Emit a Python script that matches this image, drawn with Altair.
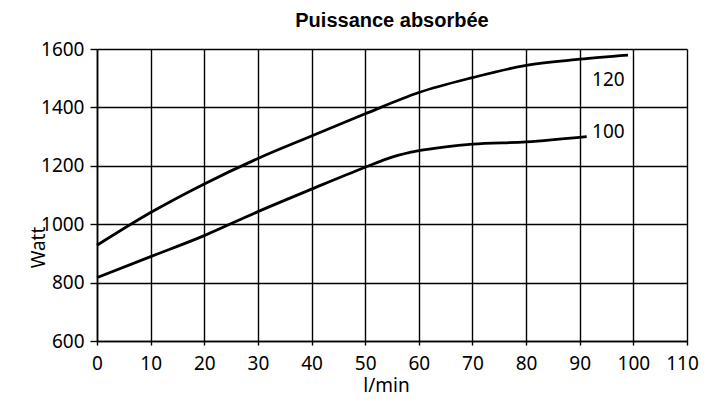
import altair as alt
import pandas as pd

# Curve "120"
x120 = [0, 10, 20, 30, 40, 50, 60, 70, 80, 90, 99]
w120 = [928, 1040, 1138, 1225, 1302, 1378, 1451, 1502, 1544, 1565, 1579]
# Curve "100"
x100 = [0, 10, 20, 30, 40, 50, 55, 60, 65, 70, 80, 91.3]
w100 = [817, 889, 961, 1043, 1120, 1195, 1230, 1252, 1265, 1274, 1282, 1300]

label_text = ["120", "100"]
label_x = [92.3, 92.3]
label_w = [1494, 1316]

x_ticks = list(range(0, 111, 10))
y_ticks = list(range(600, 1601, 200))

rows = [{"x": a, "w": b, "serie": "120"} for a, b in zip(x120, w120)]
rows += [{"x": a, "w": b, "serie": "100"} for a, b in zip(x100, w100)]
df = pd.DataFrame(rows)
lab = pd.DataFrame({"x": label_x, "w": label_w, "t": label_text})

FONT = "Noto Sans"
FS = 19

xscale = alt.Scale(domain=[0, 110], nice=False, zero=False)
yscale = alt.Scale(domain=[600, 1600], nice=False, zero=False)

xaxis = alt.Axis(values=x_ticks, title="l/min", format="d", grid=True, gridColor="black",
                 gridWidth=1.4, gridOpacity=1, domainColor="black", domainWidth=1.6,
                 tickColor="black", tickSize=4, tickWidth=1.4, labelPadding=9,
                 labelFlush=False, labelOverlap=False,
                 labelOffset={"condition": {"test": "datum.value == 110", "value": -5}, "value": 0},
                 labelFont=FONT, labelFontSize=FS, labelColor="black",
                 titleFont=FONT, titleFontSize=FS, titleFontWeight="normal", titleColor="black",
                 titleX=289, titleY=50, titleBaseline="alphabetic", titleAnchor="middle")
yaxis = alt.Axis(values=y_ticks, title="Watt", format="d", grid=True, gridColor="black",
                 gridWidth=1.4, gridOpacity=1, domainColor="black", domainWidth=1.6,
                 tickColor="black", tickSize=7, tickWidth=1.4, labelPadding=6,
                 labelFlush=False, labelOverlap=False,
                 labelFont=FONT, labelFontSize=FS, labelColor="black",
                 titleFont=FONT, titleFontSize=FS, titleFontWeight="normal", titleColor="black",
                 titleX=-53, titleY=198, titleBaseline="alphabetic", titleAngle=270)

lines = alt.Chart(df).mark_line(color="black", strokeWidth=2.8, interpolate="monotone").encode(
    x=alt.X("x:Q", scale=xscale, axis=xaxis),
    y=alt.Y("w:Q", scale=yscale, axis=yaxis),
    detail="serie:N",
)

labels = alt.Chart(lab).mark_text(align="left", baseline="middle", font=FONT,
                                  fontSize=FS, color="black").encode(
    x=alt.X("x:Q", scale=xscale),
    y=alt.Y("w:Q", scale=yscale),
    text="t:N",
)

chart = alt.layer(lines, labels).properties(
    width=590, height=292,
    title=alt.TitleParams("Puissance absorbée", font="Liberation Sans", fontSize=20,
                          fontWeight="bold", color="black", anchor="middle", offset=9),
    autosize=alt.AutoSizeParams(type="none"),
    padding={"left": 89, "top": 41, "right": 12, "bottom": 56},
).configure_view(stroke=None)

chart.save("out.html", embed_options={"renderer": "svg", "actions": False})
